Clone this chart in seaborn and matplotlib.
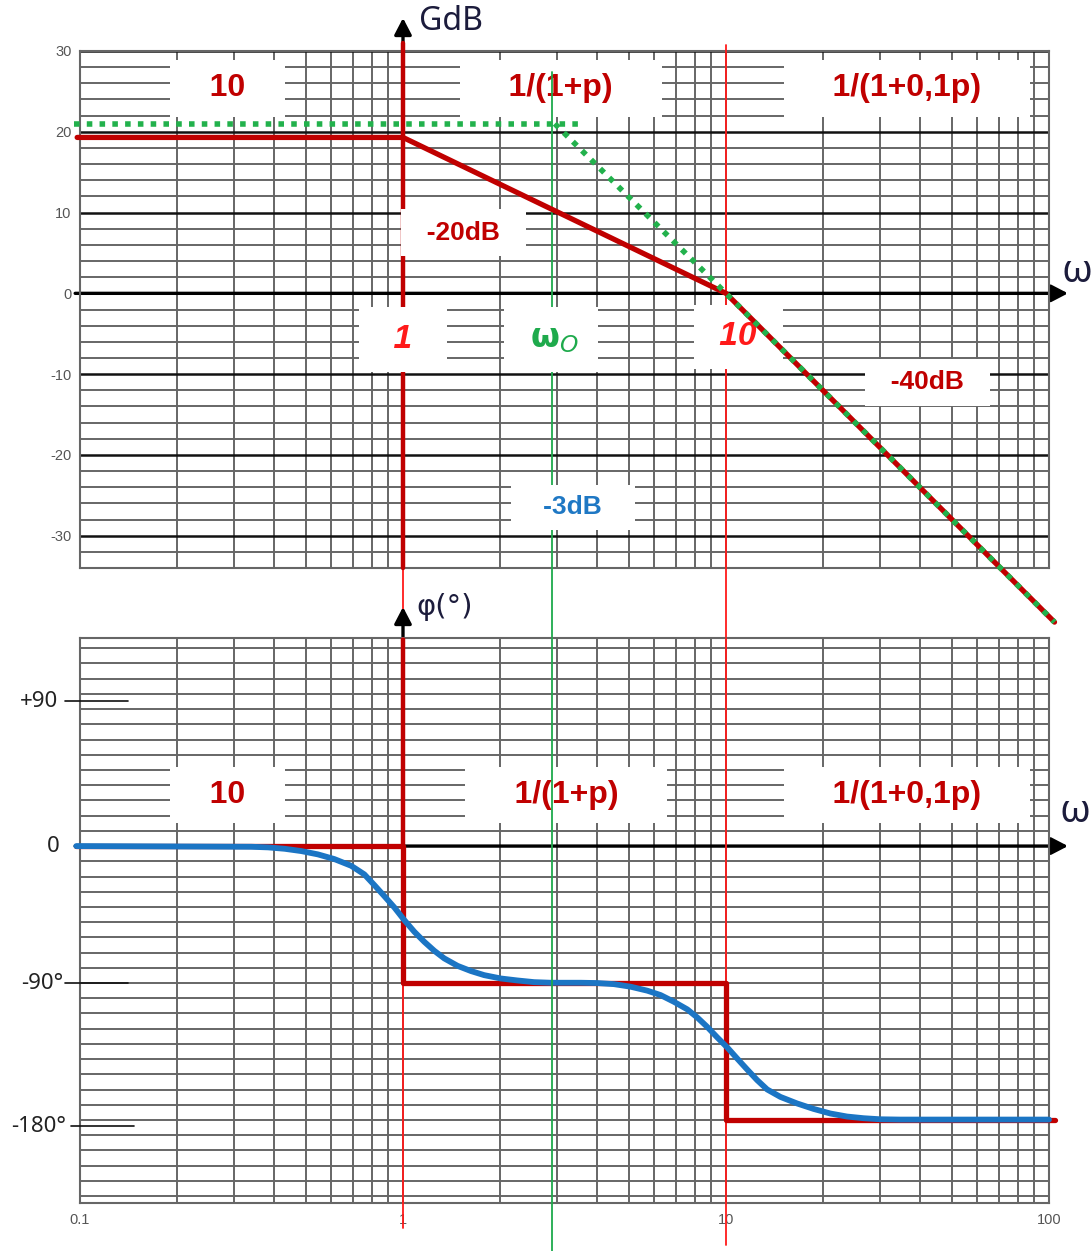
import numpy as np
import pandas as pd
import matplotlib
matplotlib.use("Agg")
import matplotlib.pyplot as plt
import seaborn as sns
from matplotlib.ticker import FixedLocator, LogLocator, NullFormatter, MultipleLocator

sns.set_style("white")
plt.rcParams["font.family"] = ["Liberation Sans", "DejaVu Sans"]
plt.rcParams["mathtext.fontset"] = "dejavusans"

# ---------------- data ----------------
decades = [0.1, 1, 10, 100]
decade_labels = ["0.1", "1", "10", "100"]
gain_ticks = [-30, -20, -10, 0, 10, 20, 30]
gain_tick_labels = ["-30", "-20", "-10", "0", "10", "20", "30"]

# red gain asymptote
gain_asym_w = [0.098, 1, 10, 104]
gain_asym_db = [19.3, 19.3, 0, -40.7]
# green dotted gain asymptote
green_flat_w = [0.0955, 3.5]
green_flat_db = [21, 21]
green_slope_w = [2.95, 10, 104]
green_slope_db = [21, 0, -40.7]
omega0 = 2.9
corner_w = [1, 10]

# red phase asymptote (steps)
phase_step_w = [0.0974, 1, 1, 10, 10, 104]
phase_step_deg = [0, 0, -90, -90, -180, -180]
# blue phase curve
phase_w = [0.0974, 0.339, 0.382, 0.430, 0.484, 0.545, 0.613, 0.691, 0.759, 0.815,
           0.875, 0.940, 1.009, 1.084, 1.164, 1.250, 1.342, 1.476, 1.623, 1.784,
           2.009, 2.262, 2.546, 2.868, 3.549, 3.999, 4.500, 5.068, 5.706, 6.274,
           6.898, 7.590, 8.147, 8.748, 9.394, 10.09, 10.83, 11.63, 12.49, 13.41,
           14.74, 16.60, 18.68, 21.04, 23.70, 26.67, 30.04, 34.63, 100]
phase_deg = [0, -0.46, -0.85, -1.77, -3.28, -5.45, -8.54, -12.94, -18.59, -25.6,
             -32.85, -40.3, -48.6, -56.3, -62.9, -68.8, -73.8, -78.7, -82.1, -84.8,
             -87.0, -88.3, -89.4, -89.8, -89.8, -90.0, -90.7, -92.4, -95.0, -97.9,
             -102.3, -107.3, -112.6, -118.8, -125.7, -132.3, -139.6, -146.8, -153.8, -159.9,
             -164.8, -169.1, -172.7, -175.7, -177.7, -178.8, -179.5, -179.7, -179.7]
phase_label_vals = [95, 0, -90, -184]
phase_label_txt = ["+90", "0", "-90°", "-180°"]

# ---------------- style ----------------
RED = "#c00000"
BRED = "#ff1a1a"
GREEN = "#1eaa4c"
GDOT = "#22b14c"
BLUE = "#1b75c4"
GRID = "#666666"
NAVY = "#1c1c3c"

W, H = 1091, 1251
fig = plt.figure(figsize=(W / 100, H / 100), dpi=100)
gx0, gx1 = 80, 1049
axG = fig.add_axes([gx0 / W, 1 - 568 / H, (gx1 - gx0) / W, (568 - 51) / H])
axP = fig.add_axes([gx0 / W, 1 - 1203 / H, (gx1 - gx0) / W, (1203 - 638) / H])


def fG(py):
    return (568 - py) / 517.0


def fP(py):
    return (1203 - py) / 565.0


for ax in (axG, axP):
    ax.set_xscale("log")
    ax.set_xlim(decades[0], decades[-1])
    ax.xaxis.set_major_locator(FixedLocator(decades))
    ax.xaxis.set_minor_locator(LogLocator(base=10, subs=np.arange(2, 10)))
    ax.xaxis.set_minor_formatter(NullFormatter())
    ax.grid(True, which="both", axis="x", color=GRID, lw=1.4)
    ax.tick_params(which="both", length=0)
    ax.set_axisbelow(True)
    for s in ax.spines.values():
        s.set_color(GRID)
        s.set_linewidth(1.5)
    ax.patch.set_visible(False)

# gain axes grid
axG.set_ylim(-34, 30)
axG.yaxis.set_major_locator(FixedLocator(gain_ticks))
axG.yaxis.set_minor_locator(MultipleLocator(2))
axG.set_yticklabels(gain_tick_labels, color="#555555", fontsize=10.5)
axG.grid(True, which="major", axis="y", color="#111111", lw=1.8)
axG.grid(True, which="minor", axis="y", color=GRID, lw=1.4)
axG.tick_params(axis="y", pad=6)
axG.tick_params(axis="x", labelbottom=False)

# phase axes grid
axP.set_ylim(-234.5, 136.7)
axP.yaxis.set_major_locator(FixedLocator(np.arange(-230, 131, 10)))
axP.set_yticklabels([])
axP.grid(True, which="major", axis="y", color=GRID, lw=1.4)
axP.set_xticklabels(decade_labels, color="#555555", fontsize=10.5)
axP.tick_params(axis="x", pad=7)

# ---------------- vertical marker lines ----------------
axG.axvline(corner_w[0], ymin=fG(638), ymax=fG(43), color=BRED, lw=1.3, zorder=3, clip_on=False)
axP.axvline(corner_w[0], ymin=fP(1228), ymax=1, color=BRED, lw=1.3, zorder=3, clip_on=False)
axG.axvline(corner_w[1], ymin=fG(638), ymax=fG(45), color=BRED, lw=1.3, zorder=3, clip_on=False)
axP.axvline(corner_w[1], ymin=fP(1245), ymax=1, color=BRED, lw=1.3, zorder=3, clip_on=False)
axG.axvline(corner_w[0], ymin=0, ymax=fG(43), color=RED, lw=3.2, zorder=3, clip_on=False)
axP.vlines(corner_w[0], 0, axP.get_ylim()[1], color=RED, lw=3.2, zorder=3)
axG.axvline(omega0, ymin=fG(638), ymax=fG(72), color=GREEN, lw=1.3, zorder=5.5, clip_on=False)
axP.axvline(omega0, ymin=fP(1251), ymax=1, color=GREEN, lw=1.3, zorder=6, clip_on=False)

# ---------------- axes arrows ----------------
aprops = dict(arrowstyle="-|>,head_length=0.5,head_width=0.26", color="black", lw=2.4,
              mutation_scale=20, shrinkA=0, shrinkB=0)
for ax, tipy in ((axG, fG(18)), (axP, fP(607))):
    ax.annotate("", xy=(1.0196, 0), xytext=(-0.005, 0), xycoords=ax.get_yaxis_transform(),
                arrowprops=aprops, zorder=2, annotation_clip=False)
    ax.annotate("", xy=(1, tipy), xytext=(1, 0.96 if ax is axP else 0), xycoords=ax.get_xaxis_transform(),
                arrowprops=aprops, zorder=2, annotation_clip=False)

# ---------------- curves ----------------
sns.lineplot(x=gain_asym_w, y=gain_asym_db, ax=axG, color=RED, lw=3.8, sort=False,
             estimator=None, clip_on=False, zorder=7)
for gw, gd in ((green_flat_w, green_flat_db), (green_slope_w, green_slope_db)):
    sns.lineplot(x=gw, y=gd, ax=axG, color=GDOT, lw=4.0, sort=False,
                 estimator=None, clip_on=False, zorder=8, linestyle=(0, (1.0, 1.3)),
                 dash_capstyle="butt")
sns.lineplot(x=phase_step_w, y=phase_step_deg, ax=axP, color=RED, lw=3.8, sort=False,
             estimator=None, clip_on=False, zorder=4)
sns.lineplot(x=phase_w, y=phase_deg, ax=axP, color=BLUE, lw=4.2, sort=False,
             estimator=None, clip_on=False, zorder=5, solid_joinstyle="round")
for ax in (axG, axP):
    ax.set_xlabel("")
    ax.set_ylabel("")

# ---------------- labels with white boxes ----------------
def boxed(ax, x, y, s, size, color, pad, z, style="normal"):
    ax.text(x, y, s, ha="center", va="center", fontsize=size, color=color, fontweight="bold",
            fontstyle=style, zorder=z,
            bbox=dict(boxstyle="square,pad=%s" % pad, fc="white", ec="none"))

for ax, yy, xs in ((axG, 25.4, (0.286, 3.08, 36.4)), (axP, 33.5, (0.286, 3.2, 36.4))):
    boxed(ax, xs[0], yy, "   10   ", 23, RED, 0.42, 5)
    boxed(ax, xs[1], yy, "    1/(1+p)    ", 23, RED, 0.42, 5)
    boxed(ax, xs[2], yy, "    1/(1+0,1p)    ", 23, RED, 0.42, 5)

boxed(axG, 1.54, 7.5, "  -20dB  ", 19, RED, 0.43, 6)
boxed(axG, 42, -11, "  -40dB  ", 19, RED, 0.43, 6)
boxed(axG, 3.35, -26.5, "   -3dB   ", 19, "#1f78c4", 0.4, 6)
boxed(axG, 1.0, -5.7, "  1  ", 24, BRED, 0.5, 6, style="italic")
boxed(axG, 10.9, -5.4, " 10 ", 24, BRED, 0.5, 6, style="italic")
boxed(axG, 2.87, -5.7, r" $\mathbf{\omega}_{\mathit{O}}$ ", 24, GREEN, 0.5, 6)

# axis titles
axG.text(1.12, 33.6, "GdB", ha="left", va="center", fontsize=23, color=NAVY,
         family=["Noto Sans", "DejaVu Sans"])
axG.text(122, 2.7, "ω", ha="center", va="center", fontsize=28, color=NAVY, fontweight="bold",
         family=["Noto Sans", "DejaVu Sans"])
axP.text(1.1, 157, "φ(°)", ha="left", va="center", fontsize=21, color=NAVY,
         family=["DejaVu Sans"])
axP.text(120, 22.3, "ω", ha="center", va="center", fontsize=28, color=NAVY, fontweight="bold",
         family=["Noto Sans", "DejaVu Sans"])

# phase value labels with short dashes
ytr = axP.get_yaxis_transform()
lab_x = [-0.0227, -0.0206, -0.0175, -0.0145]
dash_x = [(-0.0155, 0.0495), None, (-0.0155, 0.0495), (-0.0093, 0.056)]
for v, t, lx, dx in zip(phase_label_vals, phase_label_txt, lab_x, dash_x):
    axP.text(lx, v, t, transform=ytr, ha="right", va="center", fontsize=16, color="#222222",
             family=["Noto Sans", "DejaVu Sans"])
    if dx is not None:
        axP.plot(dx, [v, v], transform=ytr, color="#111111", lw=1.2, clip_on=False, zorder=3)

fig.savefig("out.png", dpi=100, facecolor="white")
